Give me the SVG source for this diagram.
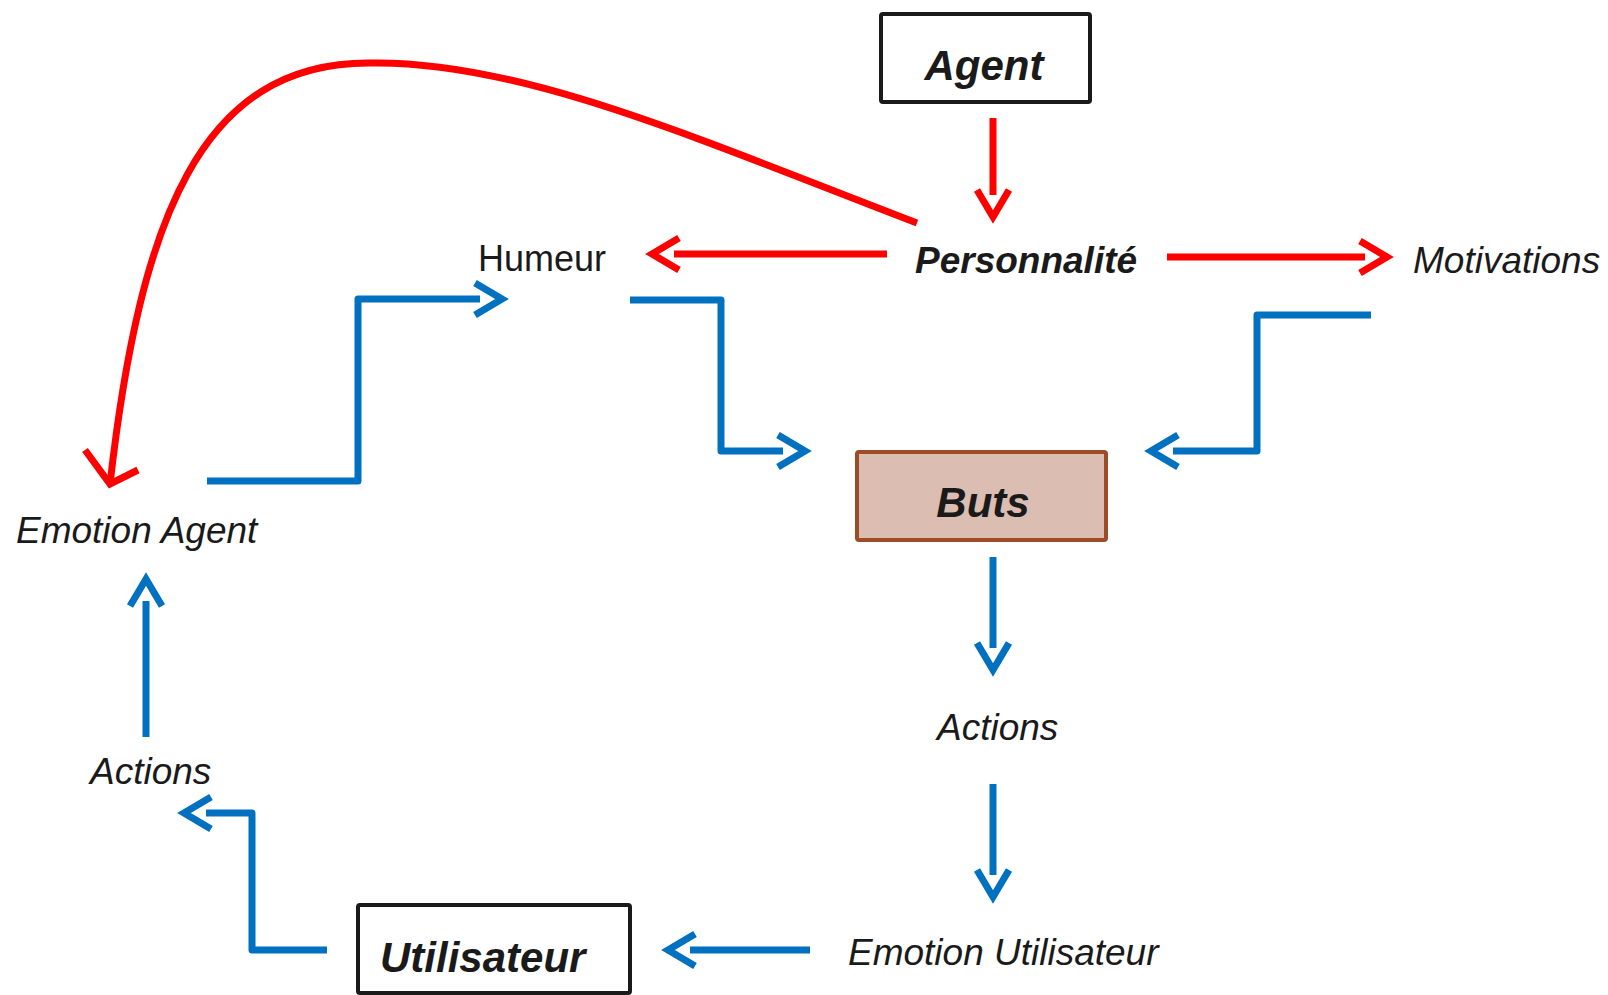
<svg xmlns="http://www.w3.org/2000/svg" width="1608" height="995" viewBox="0 0 1608 995">
  <style>
    .lbl { font-family: "Liberation Sans", Arial, sans-serif; fill: #1a1a1a; font-size: 37px; }
    .it { font-style: italic; }
    .bi { font-style: italic; font-weight: bold; font-size: 42px; }
    .box { fill: #ffffff; stroke: #1a1a1a; stroke-width: 4; }
    .red { fill: none; stroke: #ff0000; stroke-width: 7; }
    .blue { fill: none; stroke: #0070c0; stroke-width: 7; stroke-linejoin: round; }
  </style>
  <defs>
    <!-- open chevron heads, placed ahead of the line end -->
    <marker id="headRed" markerUnits="userSpaceOnUse" orient="auto" markerWidth="1" markerHeight="1" refX="0" refY="0" overflow="visible">
      <path d="M -5,-16 L 22,0 L -5,16" fill="none" stroke="#ff0000" stroke-width="7"/>
    </marker>
    <marker id="headBlue" markerUnits="userSpaceOnUse" orient="auto" markerWidth="1" markerHeight="1" refX="0" refY="0" overflow="visible">
      <path d="M -5,-16 L 22,0 L -5,16" fill="none" stroke="#0070c0" stroke-width="7"/>
    </marker>
  </defs>

  <rect width="1608" height="995" fill="#ffffff"/>

  <g id="connectors">
    <!-- red: influence of personality -->
    <path class="red" d="M993,118 V195" marker-end="url(#headRed)"/>
    <path class="red" d="M887,254 H674" marker-end="url(#headRed)"/>
    <path class="red" d="M1167,257 H1365" marker-end="url(#headRed)"/>
    <path class="red" d="M917,223 C700,140 520,60 370,63 C200,62 140,220 110,484"/>
    <polyline class="red" points="85,450 110,484 138,470"/>
    <!-- blue: action / emotion loop -->
    <path class="blue" d="M207,481 H358 V299 H480" marker-end="url(#headBlue)"/>
    <path class="blue" d="M630,300 H721 V451 H783" marker-end="url(#headBlue)"/>
    <path class="blue" d="M1371,315 H1257 V451 H1173" marker-end="url(#headBlue)"/>
    <path class="blue" d="M993,557 V648" marker-end="url(#headBlue)"/>
    <path class="blue" d="M993,784 V875" marker-end="url(#headBlue)"/>
    <path class="blue" d="M810,950 H690" marker-end="url(#headBlue)"/>
    <path class="blue" d="M327,950 H252 V813 H206" marker-end="url(#headBlue)"/>
    <path class="blue" d="M146,737 V601" marker-end="url(#headBlue)"/>
  </g>

  <g id="agent">
    <rect class="box" x="881" y="14" width="209" height="88" rx="2"/>
    <text class="lbl bi" x="984" y="80" text-anchor="middle">Agent</text>
  </g>
  <g id="personnalite">
    <text class="lbl bi" x="915" y="273" style="font-size:37px">Personnalité</text>
  </g>
  <g id="humeur">
    <text class="lbl" x="478" y="271" style="font-size:36px">Humeur</text>
  </g>
  <g id="motivations">
    <text class="lbl it" x="1413" y="273">Motivations</text>
  </g>
  <g id="buts">
    <rect x="857" y="452" width="249" height="88" rx="2" fill="#dbbdb2" stroke="#9e4b28" stroke-width="4"/>
    <text class="lbl bi" x="983" y="517" text-anchor="middle">Buts</text>
  </g>
  <g id="emotion-agent">
    <text class="lbl it" x="16" y="543">Emotion Agent</text>
  </g>
  <g id="actions-agent">
    <text class="lbl it" x="937" y="740">Actions</text>
  </g>
  <g id="emotion-utilisateur">
    <text class="lbl it" x="848" y="965">Emotion Utilisateur</text>
  </g>
  <g id="utilisateur">
    <rect class="box" x="358" y="905" width="272" height="88" rx="2"/>
    <text class="lbl bi" x="380" y="972">Utilisateur</text>
  </g>
  <g id="actions-utilisateur">
    <text class="lbl it" x="90" y="784">Actions</text>
  </g>
</svg>
